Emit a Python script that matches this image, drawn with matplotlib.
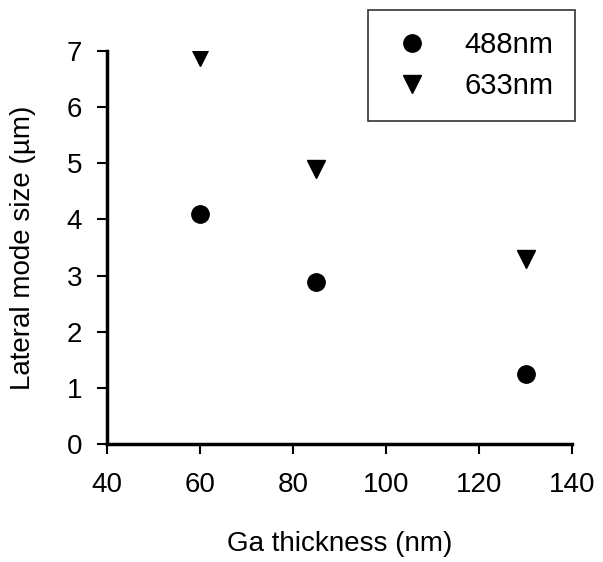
import matplotlib
matplotlib.use("Agg")
import matplotlib.pyplot as plt

plt.rcParams['font.family'] = ['Liberation Sans', 'DejaVu Sans']

thickness = [60, 85, 130]
size_488 = [4.1, 2.88, 1.25]
size_633 = [6.9, 4.9, 3.3]

fig = plt.figure(figsize=(6.03, 5.62), dpi=100)
ax = fig.add_axes([0.1774, 0.21, 0.7712, 0.6993])

ax.plot(thickness, size_488, 'o', color='black', markersize=12.5, label='488nm')
ax.plot(thickness, size_633, 'v', color='black', markersize=13, label='633nm')

ax.set_xlim(40, 140)
ax.set_ylim(0, 7)
ax.set_xticks([40, 60, 80, 100, 120, 140])
ax.set_yticks(range(8))

for side in ['top', 'right']:
    ax.spines[side].set_visible(False)
for side in ['left', 'bottom']:
    ax.spines[side].set_linewidth(2.5)
ax.tick_params(direction='out', length=7, width=1.5, labelsize=20)
ax.tick_params(axis='x', pad=13)
ax.tick_params(axis='y', pad=11)

ax.set_xlabel('Ga thickness (nm)', fontsize=20, labelpad=24)
ax.set_ylabel('Lateral mode size (\u00b5m)', fontsize=20, labelpad=22)

leg = fig.legend(loc='upper left', bbox_to_anchor=(368/603, 1 - 10/562), fontsize=21,
                 frameon=True, fancybox=False, edgecolor='black', borderpad=0.72,
                 handletextpad=1.0, labelspacing=0.45, borderaxespad=0, handlelength=1.6)
leg.get_frame().set_linewidth(1.2)

fig.savefig('out.png', dpi=100, facecolor='white')
